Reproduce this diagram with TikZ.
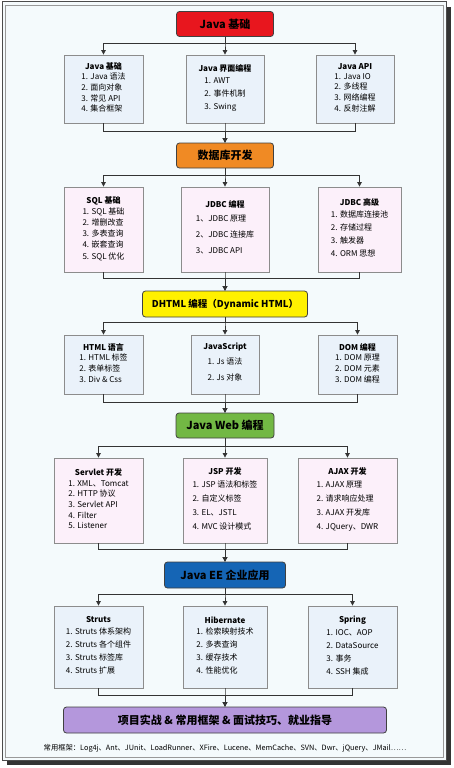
\documentclass[tikz,border=0pt]{standalone}
\usepackage{fontspec}
\setmainfont{Noto Sans CJK SC}
\usepackage{xcolor}
\usetikzlibrary{arrows.meta}

\definecolor{pagebg}{HTML}{F4FAFC}
\definecolor{subblue}{HTML}{EAF2FA}
\definecolor{subpink}{HTML}{FCF0FA}
\definecolor{basered}{HTML}{E8161E}
\definecolor{dborange}{HTML}{F08A24}
\definecolor{dhtmlyellow}{HTML}{FFF100}
\definecolor{webgreen}{HTML}{72B844}
\definecolor{eeblue}{HTML}{1565B5}
\definecolor{projpurple}{HTML}{B497DC}

% title of a topic box, then its list
\newcommand{\topic}[3]{\textbf{#1}\\[1pt]{\renewcommand{\arraystretch}{#2}\begin{tabular}{@{}l@{}}#3\end{tabular}}}

\begin{document}
\begin{tikzpicture}[x=1pt, y=-1pt,
    mainbox/.style={draw=black!75, rounded corners=3pt, line width=0.8pt, minimum height=25pt, inner sep=0pt, font=\fontsize{11}{13}\selectfont\bfseries},
    subbox/.style={draw=black!45, line width=0.8pt, inner sep=0pt, align=center, font=\fontsize{8}{10.7}\selectfont},
    link/.style={draw=black!80, line width=0.8pt},
    arrow/.style={link, -{Triangle[length=4.5pt, width=4.5pt]}}
]
\useasboundingbox (0,0) rectangle (453,768);
% frame
\fill[black!80] (7,7) rectangle (451,765);
\filldraw[fill=pagebg, draw=black!70, line width=1pt] (2,2) rectangle (446,760);
\draw[black!40, line width=0.8pt] (5,5) rectangle (443,757);

% main steps
\node[mainbox, fill=basered, minimum width=97pt] (base) at (225,24) {Java 基础};
\node[mainbox, fill=dborange, minimum width=97pt] (db) at (225,155.5) {数据库开发};
\node[mainbox, fill=dhtmlyellow, minimum width=165pt, minimum height=26pt, font=\fontsize{9.5}{12}\selectfont\bfseries] (dhtml) at (225,304) {DHTML 编程（Dynamic HTML）};
\node[mainbox, fill=webgreen, minimum width=98pt] (web) at (225,425.5) {Java Web 编程};
\node[mainbox, fill=eeblue, minimum width=121pt, minimum height=26pt] (ee) at (225,575) {Java EE 企业应用};
\node[mainbox, fill=projpurple, minimum width=323pt, minimum height=26pt] (proj) at (225,720) {项目实战 \& 常用框架 \& 面试技巧、就业指导};

% java basics
\node[subbox, fill=subblue, minimum width=79pt, minimum height=68pt] (javabase) at (103.5,89) {\topic{Java 基础}{1}{1. Java 语法\\2. 面向对象\\3. 常见 API\\4. 集合框架}};
\node[subbox, fill=subblue, minimum width=78pt, minimum height=68pt] (javagui) at (225,89) {\topic{Java 界面编程}{1.22}{1. AWT\\2. 事件机制\\3. Swing}};
\node[subbox, fill=subblue, minimum width=78pt, minimum height=68pt] (javaapi) at (355,89) {\topic{Java API}{1}{1. Java IO\\2. 多线程\\3. 网络编程\\4. 反射注解}};

% database
\node[subbox, fill=subpink, minimum width=79pt, minimum height=85pt] (sqlbase) at (103.5,229.5) {\topic{SQL 基础}{1.03}{1. SQL 基础\\2. 增删改查\\3. 多表查询\\4. 嵌套查询\\5. SQL 优化}};
\node[subbox, fill=subpink, minimum width=88pt, minimum height=85pt] (jdbc) at (225,229.5) {\topic{JDBC 编程}{1.5}{1、JDBC 原理\\2、JDBC 连接库\\3、JDBC API}};
\node[subbox, fill=subpink, minimum width=83pt, minimum height=85pt] (jdbcadv) at (359.5,229.5) {\topic{JDBC 高级}{1.22}{1. 数据库连接池\\2. 存储过程\\3. 触发器\\4. ORM 思想}};

% dhtml
\node[subbox, fill=subblue, minimum width=79pt, minimum height=59pt] (html) at (103.5,364.5) {\topic{HTML 语言}{1}{1. HTML 标签\\2. 表单标签\\3. Div \& Css}};
\node[subbox, fill=subblue, minimum width=68pt, minimum height=59pt] (js) at (225,364.5) {\topic{JavaScript}{1.5}{1. Js 语法\\2. Js 对象}};
\node[subbox, fill=subblue, minimum width=79pt, minimum height=59pt] (dom) at (357.5,364.5) {\topic{DOM 编程}{1}{1. DOM 原理\\2. DOM 元素\\3. DOM 编程}};

% java web
\node[subbox, fill=subpink, minimum width=89pt, minimum height=85pt] (servlet) at (98.5,500.5) {\topic{Servlet 开发}{1}{1. XML、Tomcat\\2. HTTP 协议\\3. Servlet API\\4. Filter\\5. Listener}};
\node[subbox, fill=subpink, minimum width=84pt, minimum height=85pt] (jsp) at (225,500.5) {\topic{JSP 开发}{1.31}{1. JSP 语法和标签\\2. 自定义标签\\3. EL、JSTL\\4. MVC 设计模式}};
\node[subbox, fill=subpink, minimum width=99pt, minimum height=85pt] (ajax) at (347.5,500.5) {\topic{AJAX 开发}{1.31}{1. AJAX 原理\\2. 请求响应处理\\3. AJAX 开发库\\4. JQuery、DWR}};

% java ee
\node[subbox, fill=subblue, minimum width=89pt, minimum height=82pt] (struts) at (98.5,647) {\topic{Struts}{1.22}{1. Struts 体系架构\\2. Struts 各个组件\\3. Struts 标签库\\4. Struts 扩展}};
\node[subbox, fill=subblue, minimum width=84pt, minimum height=82pt] (hibernate) at (225,647) {\topic{Hibernate}{1.22}{1. 检索映射技术\\2. 多表查询\\3. 缓存技术\\4. 性能优化}};
\node[subbox, fill=subblue, minimum width=89pt, minimum height=82pt] (spring) at (352.5,647) {\topic{Spring}{1.22}{1. IOC、AOP\\2. DataSource\\3. 事务\\4. SSH 集成}};

\node[font=\fontsize{7.3}{9}\selectfont] (note) at (225,748) {常用框架：Log4j、Ant、JUnit、LoadRunner、XFire、Lucene、MemCache、SVN、Dwr、jQuery、JMail……};

% forks
\foreach \n in {javabase, javagui, javaapi} \draw[arrow] (base.south) -- ++(0,7) -| (\n.north);
\foreach \n in {javabase, javagui, javaapi} \draw[arrow] (\n.south) -- ++(0,8) -| (db.north);
\foreach \n in {sqlbase, jdbc, jdbcadv} \draw[arrow] (db.south) -- ++(0,7) -| (\n.north);
\foreach \n in {sqlbase, jdbc, jdbcadv} \draw[arrow] (\n.south) -- ++(0,6) -| (dhtml.north);
\foreach \n in {html, js, dom} \draw[arrow] (dhtml.south) -- ++(0,5) -| (\n.north);
\foreach \n in {html, js, dom} \draw[arrow] (\n.south) -- ++(0,8) -| (web.north);
\foreach \n in {servlet, jsp, ajax} \draw[arrow] (web.south) -- ++(0,8) -| (\n.north);
\foreach \n in {servlet, jsp, ajax} \draw[arrow] (\n.south) -- ++(0,6) -| (ee.north);
\foreach \n in {struts, hibernate, spring} \draw[arrow] (ee.south) -- ++(0,6) -| (\n.north);
\foreach \n in {struts, hibernate, spring} \draw[arrow] (\n.south) -- ++(0,7) -| (proj.north);
\end{tikzpicture}
\end{document}
